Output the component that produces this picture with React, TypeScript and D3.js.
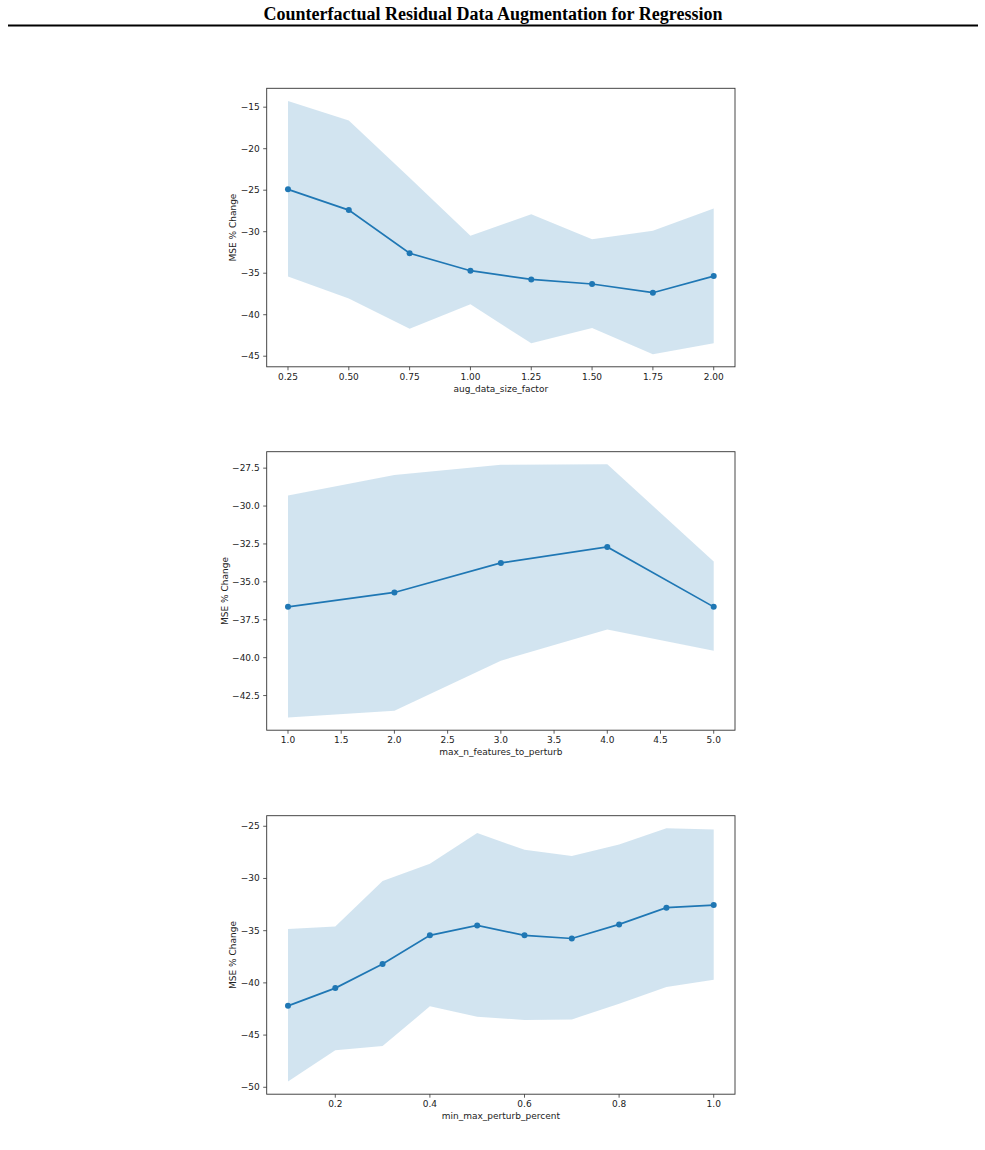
import * as React from "react";
import * as d3 from "d3";

// panel 1: aug_data_size_factor
const augSize = [0.25, 0.5, 0.75, 1.0, 1.25, 1.5, 1.75, 2.0];
const augMse = [-24.9, -27.4, -32.6, -34.7, -35.75, -36.3, -37.35, -35.35];
const augUpper = [-14.25, -16.6, -23.5, -30.5, -27.9, -30.9, -29.9, -27.2];
const augLower = [-35.4, -38.05, -41.7, -38.75, -43.45, -41.6, -44.75, -43.45];

// panel 2: max_n_features_to_perturb
const nFeat = [1, 2, 3, 4, 5];
const featMse = [-36.65, -35.7, -33.75, -32.7, -36.65];
const featUpper = [-29.3, -27.95, -27.28, -27.25, -33.65];
const featLower = [-43.95, -43.5, -40.2, -38.15, -39.55];

// panel 3: min_max_perturb_percent
const pctPerturb = [0.1, 0.2, 0.3, 0.4, 0.5, 0.6, 0.7, 0.8, 0.9, 1.0];
const pctMse = [-42.2, -40.5, -38.2, -35.45, -34.5, -35.45, -35.75, -34.4, -32.8, -32.55];
const pctUpper = [-34.85, -34.6, -30.25, -28.6, -25.65, -27.25, -27.85, -26.75, -25.2, -25.3];
const pctLower = [-49.45, -46.45, -46.05, -42.25, -43.25, -43.55, -43.5, -42.0, -40.4, -39.7];

const title = "Counterfactual Residual Data Augmentation for Regression";
const yLabel = "MSE % Change";

const panels = [
  { x: augSize, mse: augMse, upper: augUpper, lower: augLower, xLabel: "aug_data_size_factor",
    xTicks: d3.range(0.25, 2.01, 0.25), xFmt: ".2f", yTicks: d3.range(-45, -14, 5), yFmt: "d" },
  { x: nFeat, mse: featMse, upper: featUpper, lower: featLower, xLabel: "max_n_features_to_perturb",
    xTicks: d3.range(1, 5.01, 0.5), xFmt: ".1f", yTicks: d3.range(-42.5, -27.4, 2.5), yFmt: ".1f" },
  { x: pctPerturb, mse: pctMse, upper: pctUpper, lower: pctLower, xLabel: "min_max_perturb_percent",
    xTicks: d3.range(0.2, 1.01, 0.2), xFmt: ".1f", yTicks: d3.range(-50, -24, 5), yFmt: "d" },
];

const FONT = "DejaVu Sans, sans-serif";
const BLUE = "#1f77b4";

const measure = (() => {
  let ctx: CanvasRenderingContext2D | null = null;
  return (s: string) => {
    if (!ctx) ctx = document.createElement("canvas").getContext("2d");
    if (!ctx) return s.length * 5.7;
    ctx.font = "9px 'DejaVu Sans'";
    return ctx.measureText(s).width;
  };
})();

// matplotlib-style 5% margins on both axes
const padded = (lo: number, hi: number) => {
  const m = (hi - lo) * 0.05;
  return [lo - m, hi + m];
};

const Panel = ({ p, top }) => {
  const left = 266.7, right = 735, height = 278.5;
  const bottom = top + height;

  const x = d3.scaleLinear().domain(padded(d3.min(p.x), d3.max(p.x))).range([left, right]);
  const y = d3.scaleLinear().domain(padded(d3.min(p.lower), d3.max(p.upper))).range([bottom, top]);

  const band = d3.area<number>()
    .x((d, i) => x(p.x[i]))
    .y0((d, i) => y(p.lower[i]))
    .y1((d) => y(d));
  const line = d3.line<number>()
    .x((d, i) => x(p.x[i]))
    .y((d) => y(d));

  const xf = d3.format(p.xFmt);
  const yf = d3.format(p.yFmt);
  const maxW = d3.max(p.yTicks, (t) => measure(yf(t)));
  const yLabelX = left - 3.5 - 3.5 - maxW - 4.5;

  return (
    <g>
      <path d={band(p.upper)} fill={BLUE} fillOpacity={0.2} />
      <path d={line(p.mse)} fill="none" stroke={BLUE} strokeWidth={1.7} />
      {p.mse.map((v, i) => (
        <circle key={i} cx={x(p.x[i])} cy={y(v)} r={3} fill={BLUE} />
      ))}
      <rect x={left} y={top} width={right - left} height={height} fill="none" stroke="#333" strokeWidth={0.9} />

      {p.xTicks.map((t) => (
        <g key={t} transform={`translate(${x(t)},${bottom})`}>
          <line y2={3.5} stroke="#333" strokeWidth={0.8} />
          <text y={12.8} textAnchor="middle" fontSize={9} fontFamily={FONT} fill="#222">{xf(t)}</text>
        </g>
      ))}
      {p.yTicks.map((t) => (
        <g key={t} transform={`translate(${left},${y(t)})`}>
          <line x2={-3.5} stroke="#333" strokeWidth={0.8} />
          <text x={-7} dy="0.33em" textAnchor="end" fontSize={9} fontFamily={FONT} fill="#222">{yf(t)}</text>
        </g>
      ))}

      <text x={(left + right) / 2} y={bottom + 25} textAnchor="middle" fontSize={9} fontFamily={FONT} fill="#222">
        {p.xLabel}
      </text>
      <text transform={`translate(${yLabelX},${(top + bottom) / 2}) rotate(-90)`} textAnchor="middle"
        fontSize={9} fontFamily={FONT} fill="#222">
        {yLabel}
      </text>
    </g>
  );
};

const App = () => {
  const width = 985, height = 1150;
  const tops = [88.3, 451.7, 815.7];
  return (
    <div style={{ position: "absolute", left: 0, top: 0 }}>
      <svg width={width} height={height} style={{ display: "block", background: "#fff" }}>
        <text x={493} y={20} textAnchor="middle" fontFamily="Liberation Serif, Times New Roman, serif"
          fontWeight="bold" fontSize={18} fill="#000">
          {title}
        </text>
        <line x1={8} x2={978} y1={25.5} y2={25.5} stroke="#000" strokeWidth={2} />
        {panels.map((p, i) => (
          <Panel key={i} p={p} top={tops[i]} />
        ))}
      </svg>
    </div>
  );
};

export default App;
